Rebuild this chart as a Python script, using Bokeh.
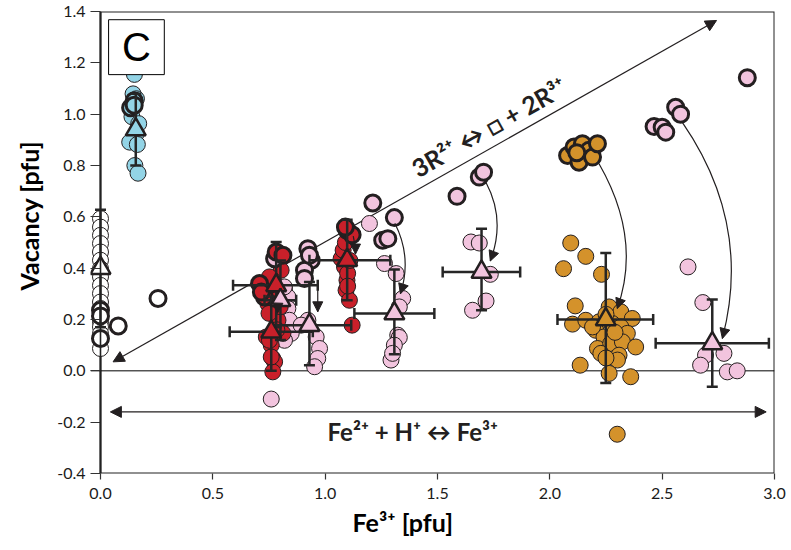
import math
from bokeh.plotting import figure
from bokeh.models import (ColumnDataSource, Arrow, NormalHead, Label, BoxAnnotation, Title,
                          Span, FixedTicker, NumeralTickFormatter, Range1d)
from bokeh.embed import file_html
from bokeh.resources import INLINE

# ---------------- data ----------------
x_ticks = [0.0, 0.5, 1.0, 1.5, 2.0, 2.5, 3.0]
y_ticks = [-0.4, -0.2, 0.0, 0.2, 0.4, 0.6, 0.8, 1.0, 1.2, 1.4]

# open (white) circles
white_thin_x = [0.0] * 18
white_thin_y = [0.593, 0.560, 0.528, 0.496, 0.463, 0.431, 0.398, 0.366, 0.333,
                0.301, 0.268, 0.243, 0.217, 0.191, 0.171, 0.145, 0.122, 0.087]
white_bold_x = [0.0, 0.0, 0.0, 0.079, 0.256]
white_bold_y = [0.236, 0.214, 0.126, 0.175, 0.282]

# light blue
blue_thin_x = [0.151, 0.145, 0.160, 0.140, 0.170, 0.160, 0.130, 0.164, 0.153, 0.167]
blue_thin_y = [1.155, 1.079, 1.060, 0.990, 0.963, 0.925, 0.891, 0.882, 0.800, 0.770]
blue_bold_x = [0.150, 0.134, 0.150]
blue_bold_y = [1.052, 1.025, 1.035]

# red
red_thin_x = [0.804, 0.767, 0.760, 0.745, 0.775, 0.790, 0.738, 0.760, 0.767, 0.775,
              0.767, 0.812, 0.800, 0.785, 0.752, 0.775, 0.750, 0.752, 0.760,
              1.071, 1.086, 1.097, 1.093, 1.108, 1.120, 1.080, 1.100, 1.090, 1.110, 1.100]
red_thin_y = [0.392, 0.353, 0.307, 0.262, 0.230, 0.197, 0.132, 0.100, 0.048, 0.035,
              -0.004, 0.146, 0.250, 0.160, 0.366, 0.275, 0.224, 0.119, 0.054,
              0.437, 0.405, 0.353, 0.314, 0.275, 0.178, 0.470, 0.380, 0.500, 0.430, 0.330]
red_bold_x = [0.782, 0.812, 0.708, 0.730, 0.716, 1.098, 1.120, 1.090]
red_bold_y = [0.463, 0.450, 0.340, 0.288, 0.307, 0.547, 0.530, 0.560]

# pink
pink_thin_x = [0.819, 0.834, 0.834, 0.841, 0.849, 0.819, 0.818, 0.760,
               0.923, 0.893, 0.960, 0.975, 0.967, 0.953,
               1.197, 1.264, 1.316, 1.345, 1.330, 1.323, 1.330, 1.308, 1.293, 1.300,
               1.649, 1.686, 1.735, 1.716, 1.656,
               2.615, 2.681, 2.693, 2.671, 2.775, 2.790, 2.834]
pink_thin_y = [0.321, 0.288, 0.243, 0.197, 0.146, 0.119, 0.327, -0.110,
               0.197, 0.178, 0.132, 0.087, 0.048, 0.016,
               0.574, 0.418, 0.379, 0.282, 0.249, 0.139, 0.130, 0.100, 0.042, 0.068,
               0.502, 0.498, 0.376, 0.272, 0.236,
               0.405, 0.266, 0.061, 0.022, 0.068, -0.004, 0.000]
pink_bold_x = [0.775, 0.923, 0.938, 0.908, 0.908, 0.930,
               1.212, 1.308, 1.256, 1.279,
               1.587, 1.686, 1.705,
               2.879, 2.560, 2.582, 2.464, 2.500, 2.516]
pink_bold_y = [0.437, 0.476, 0.431, 0.392, 0.360, 0.450,
               0.654, 0.597, 0.509, 0.515,
               0.680, 0.755, 0.774,
               1.142, 1.027, 1.000, 0.952, 0.949, 0.930]

# gold
gold_thin_x = [2.093, 2.160, 2.061, 2.230, 2.113, 2.101, 2.160, 2.219, 2.264, 2.316,
               2.367, 2.204, 2.279, 2.316, 2.241, 2.345, 2.212, 2.271, 2.323, 2.382,
               2.227, 2.308, 2.301, 2.135, 2.264, 2.360, 2.190, 2.300, 2.250, 2.290, 2.250]
gold_thin_y = [0.498, 0.446, 0.398, 0.376, 0.253, 0.182, 0.197, 0.191, 0.249, 0.230,
               0.204, 0.158, 0.184, 0.171, 0.132, 0.146, 0.087, 0.107, 0.113, 0.093,
               0.068, 0.061, 0.042, 0.022, -0.010, -0.023, 0.171, -0.247, 0.220, 0.150, 0.050]
gold_bold_x = [2.079, 2.108, 2.145, 2.130, 2.174, 2.190, 2.212, 2.120]
gold_bold_y = [0.839, 0.872, 0.885, 0.813, 0.859, 0.833, 0.885, 0.850]

# group means (triangles) with ranges
tri_group = ["white", "blue", "red", "pink", "red", "pink", "red", "pink", "pink", "gold", "pink"]
tri_x   = [0.000, 0.157, 0.782, 0.801, 0.760, 0.930, 1.098, 1.308, 1.696, 2.249, 2.723]
tri_y   = [0.400, 0.940, 0.333, 0.275, 0.152, 0.178, 0.431, 0.223, 0.385, 0.200, 0.107]
tri_xlo = [0.000, 0.157, 0.590, 0.730, 0.575, 0.760, 0.930, 1.130, 1.523, 2.034, 2.471]
tri_xhi = [0.000, 0.157, 0.967, 0.871, 0.945, 1.116, 1.290, 1.486, 1.868, 2.460, 2.975]
tri_ylo = [0.170, 0.800, 0.170, 0.120, 0.000, 0.022, 0.275, 0.065, 0.236, -0.047, -0.062]
tri_yhi = [0.628, 1.080, 0.502, 0.430, 0.290, 0.346, 0.589, 0.395, 0.554, 0.459, 0.278]

# curved arrows: start, control, end
arc_x0 = [1.310, 1.125, 0.967, 0.790, 1.716, 2.219, 2.589]
arc_y0 = [0.575, 0.525, 0.350, 0.310, 0.734, 0.807, 0.969]
arc_cx = [1.3875, 1.135, 0.967, 0.790, 1.8045, 2.4105, 2.9015]
arc_cy = [0.4425, 0.490, 0.290, 0.270, 0.588, 0.515, 0.5725]
arc_x1 = [1.335, 1.135, 0.967, 0.788, 1.735, 2.300, 2.768]
arc_y1 = [0.300, 0.455, 0.230, 0.225, 0.428, 0.243, 0.126]

# straight double arrows
diag_start = (0.056, 0.035)
diag_end = (2.742, 1.365)
horiz_start = (0.044, -0.16)
horiz_end = (2.963, -0.16)

# ---------------- style ----------------
palette = {"white": "#FFFFFF", "blue": "#93D4E6", "red": "#C9202A",
           "pink": "#F2C4DE", "gold": "#D4922B"}
ink = "#231F20"
FONT = "Lato"

p = figure(width=791, height=550, x_range=Range1d(-0.0445, 3), y_range=Range1d(-0.4, 1.4),
           output_backend="svg", toolbar_location=None,
           min_border_left=89, min_border_right=17, min_border_top=11, min_border_bottom=77)
p.xgrid.visible = False
p.ygrid.visible = False
p.outline_line_color = None
p.background_fill_color = "white"
p.border_fill_color = "white"

for ax, ticks in ((p.xaxis[0], x_ticks), (p.yaxis[0], y_ticks)):
    ax.ticker = FixedTicker(ticks=ticks)
    ax.formatter = NumeralTickFormatter(format="0.0")
    ax.minor_tick_line_color = None
    ax.major_tick_line_color = "#333333"
    ax.major_tick_line_width = 1.2
    ax.axis_line_color = None
    ax.major_label_text_font = FONT
    ax.major_label_text_font_size = "16px"
    ax.major_label_text_color = "#1a1a1a"
p.xaxis[0].major_tick_in = 0
p.xaxis[0].major_tick_out = 6
p.xaxis[0].major_label_standoff = 8
p.yaxis[0].major_tick_in = 10
p.yaxis[0].major_tick_out = 0
p.yaxis[0].major_label_standoff = 5

# plot box (axis lines at x=0 and y=-0.4, plus top/right border)
p.add_layout(BoxAnnotation(left=0, right=3, bottom=-0.4, top=1.4, fill_alpha=0,
                           line_color="#222222", line_width=2, line_alpha=1, level="underlay"))

zero = Span(location=0, dimension="width", line_color="#000000", line_width=1, level="underlay")
p.add_layout(zero)

# double arrows (under the points)
arr_d = Arrow(x_start=diag_start[0], y_start=diag_start[1], x_end=diag_end[0], y_end=diag_end[1],
              start=NormalHead(size=11, fill_color=ink, line_color=ink, line_width=1),
              end=NormalHead(size=11, fill_color=ink, line_color=ink, line_width=1),
              line_color=ink, line_width=1.2, level="underlay")
arr_h = Arrow(x_start=horiz_start[0], y_start=horiz_start[1], x_end=horiz_end[0], y_end=horiz_end[1],
              start=NormalHead(size=11, fill_color=ink, line_color=ink, line_width=1),
              end=NormalHead(size=11, fill_color=ink, line_color=ink, line_width=1),
              line_color=ink, line_width=1.2, level="underlay")
p.add_layout(arr_d)
p.add_layout(arr_h)

S = 16
def pts(xs, ys, color, lw):
    p.scatter(xs, ys, marker="circle", size=S, fill_color=color, line_color=ink, line_width=lw)

pts(white_thin_x, white_thin_y, palette["white"], 1)
pts(white_bold_x, white_bold_y, palette["white"], 3)
pts(blue_thin_x, blue_thin_y, palette["blue"], 1)
pts(blue_bold_x, blue_bold_y, palette["blue"], 3)
pts(pink_thin_x, pink_thin_y, palette["pink"], 1)
pts(red_thin_x, red_thin_y, palette["red"], 1)
pts(gold_thin_x, gold_thin_y, palette["gold"], 1)
pts(pink_bold_x, pink_bold_y, palette["pink"], 3)
pts(red_bold_x, red_bold_y, palette["red"], 3)
pts(gold_bold_x, gold_bold_y, palette["gold"], 3)

# y axis line drawn over the open circles
p.add_layout(Span(location=0, dimension="height", line_color="#222222", line_width=1.6))

# curved arrows
p.quadratic(x0=arc_x0, y0=arc_y0, x1=arc_x1, y1=arc_y1, cx=arc_cx, cy=arc_cy,
            line_color=ink, line_width=1.2)
head_src = ColumnDataSource(dict(
    xs=[x1 - 0.03 * (x1 - cx) for x1, cx in zip(arc_x1, arc_cx)],
    ys=[y1 - 0.03 * (y1 - cy) for y1, cy in zip(arc_y1, arc_cy)],
    xe=arc_x1, ye=arc_y1))
heads = Arrow(source=head_src, x_start="xs", y_start="ys", x_end="xe", y_end="ye",
              end=NormalHead(size=10, fill_color=ink, line_color=ink, line_width=1),
              line_color=ink, line_width=1)
p.add_layout(heads)

# error bars
bar_col = "#262626"
p.segment(x0=tri_x, y0=tri_ylo, x1=tri_x, y1=tri_yhi, line_color=bar_col, line_width=2.5)
hx = [i for i in range(len(tri_x)) if tri_xhi[i] > tri_xlo[i]]
p.segment(x0=[tri_xlo[i] for i in hx], y0=[tri_y[i] for i in hx],
          x1=[tri_xhi[i] for i in hx], y1=[tri_y[i] for i in hx], line_color=bar_col, line_width=2.5)
p.scatter(x=tri_x + tri_x, y=tri_ylo + tri_yhi, marker="dash", size=11,
          line_color=bar_col, line_width=2.5)
p.scatter(x=[tri_xlo[i] for i in hx] + [tri_xhi[i] for i in hx],
          y=[tri_y[i] for i in hx] * 2, marker="dash", size=11, angle=math.pi / 2,
          line_color=bar_col, line_width=2.5)

# triangles
p.scatter(x=tri_x, y=tri_y, marker="triangle", size=20,
          fill_color=[palette[g] for g in tri_group], line_color=ink, line_width=2.5)

# annotations
p.add_layout(Label(x=1.729, y=0.950, text="3R²⁺ ↔ □ + 2R³⁺", angle=0.515,
                   text_align="center", text_baseline="middle", text_font=FONT,
                   text_font_style="bold", text_font_size="25px", text_color=ink))
p.add_layout(Label(x=1.39, y=-0.238, text="Fe²⁺ + H⁺ ↔ Fe³⁺",
                   text_align="center", text_baseline="middle", text_font=FONT,
                   text_font_style="bold", text_font_size="24px", text_color=ink))

p.add_layout(BoxAnnotation(left=0.036, right=0.284, bottom=1.154, top=1.368,
                           fill_color="white", fill_alpha=1, line_color="#000000",
                           line_width=1, line_alpha=1))
p.add_layout(Label(x=0.16, y=1.261, text="C", text_align="center", text_baseline="middle",
                   text_font="Liberation Sans", text_font_size="40px", text_color="#000000"))

# axis titles (as offset titles so they can sit off-centre like the original)
p.add_layout(Title(text="Fe³⁺ [pfu]", align="left", offset=262, standoff=6,
                   text_font=FONT, text_font_style="bold", text_font_size="25px",
                   text_color="#000000"), "below")
p.add_layout(Title(text="Vacancy [pfu]", align="left", offset=183, standoff=22,
                   text_font=FONT, text_font_style="bold", text_font_size="25px",
                   text_color="#000000"), "left")

open("out.html", "w").write(file_html(p, INLINE))
